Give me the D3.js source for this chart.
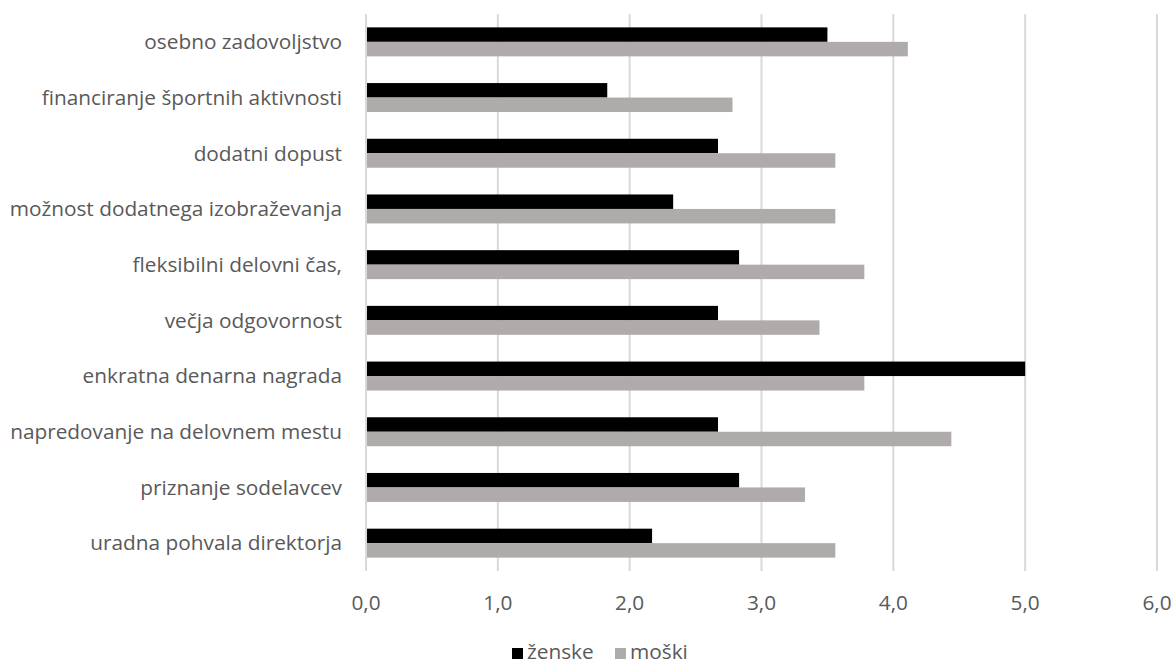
<!DOCTYPE html>
<html>
<head>
<meta charset="utf-8">
<script src="https://cdn.jsdelivr.net/npm/d3@7"></script>
<style>
  html, body { margin: 0; padding: 0; background: #fff; }
  svg { display: block; font-family: "Open Sans", sans-serif; }
</style>
</head>
<body>
<svg id="chart" width="1174" height="664"></svg>
<script>
// Categories, top to bottom
const categories = [
  "osebno zadovoljstvo",
  "financiranje športnih aktivnosti",
  "dodatni dopust",
  "možnost dodatnega izobraževanja",
  "fleksibilni delovni čas,",
  "večja odgovornost",
  "enkratna denarna nagrada",
  "napredovanje na delovnem mestu",
  "priznanje sodelavcev",
  "uradna pohvala direktorja"
];
const seriesNames = ["ženske", "moški"];
const zenske = [3.50, 1.83, 2.67, 2.33, 2.83, 2.67, 5.00, 2.67, 2.83, 2.17];
const moski  = [4.11, 2.78, 3.56, 3.56, 3.78, 3.44, 3.78, 4.44, 3.33, 3.56];
const tickValues = [0, 1, 2, 3, 4, 5, 6];
const colors = ["#000000", "#afabab"];

const svg = d3.select("#chart");
const plot = { left: 366, right: 1157, top: 14, bottom: 571 };
const textColor = "#595959";
const fontSize = 20.8;

const x = d3.scaleLinear().domain([0, 6]).range([plot.left, plot.right]);
const y = d3.scaleBand().domain(categories).range([plot.top, plot.bottom]).paddingInner(0.48).paddingOuter(0.24);
const ySub = d3.scaleBand().domain(seriesNames).range([0, y.bandwidth()]);

// Vertical gridlines
svg.append("g")
  .selectAll("line")
  .data(tickValues)
  .join("line")
  .attr("x1", d => x(d)).attr("x2", d => x(d))
  .attr("y1", plot.top).attr("y2", plot.bottom)
  .attr("stroke", "#d9d9d9")
  .attr("stroke-width", 2);

// Bars
const rows = categories.map((c, i) => ({ c, vals: [zenske[i], moski[i]] }));
const groups = svg.append("g").selectAll("g")
  .data(rows)
  .join("g")
  .attr("transform", d => `translate(0,${y(d.c)})`);

groups.selectAll("rect")
  .data(d => d.vals.map((v, j) => ({ s: seriesNames[j], v, j })))
  .join("rect")
  .attr("x", x(0) + 1)
  .attr("y", d => ySub(d.s))
  .attr("width", d => x(d.v) - x(0) - 1)
  .attr("height", ySub.bandwidth())
  .attr("fill", d => colors[d.j]);

// Category labels
svg.append("g")
  .selectAll("text")
  .data(categories)
  .join("text")
  .attr("x", 342)
  .attr("y", d => y(d) + y.bandwidth() / 2)
  .attr("dy", "0.35em")
  .attr("text-anchor", "end")
  .attr("fill", textColor)
  .attr("font-size", fontSize)
  .text(d => d);

// X axis tick labels
const fmt = v => d3.format(".1f")(v).replace(".", ",");
svg.append("g")
  .selectAll("text")
  .data(tickValues)
  .join("text")
  .attr("x", d => x(d))
  .attr("y", 603)
  .attr("dy", "0.35em")
  .attr("text-anchor", "middle")
  .attr("fill", textColor)
  .attr("font-size", fontSize)
  .text(fmt);

// Legend
const legend = svg.append("g").attr("transform", "translate(512,648)");
const items = [{ n: seriesNames[0], x: 0 }, { n: seriesNames[1], x: 103 }];
items.forEach((it, j) => {
  legend.append("rect")
    .attr("x", it.x).attr("y", 0)
    .attr("width", 11).attr("height", 11)
    .attr("fill", colors[j]);
  legend.append("text")
    .attr("x", it.x + 15).attr("y", 11)
    .attr("fill", textColor)
    .attr("font-size", fontSize)
    .text(it.n);
});
</script>
</body>
</html>
